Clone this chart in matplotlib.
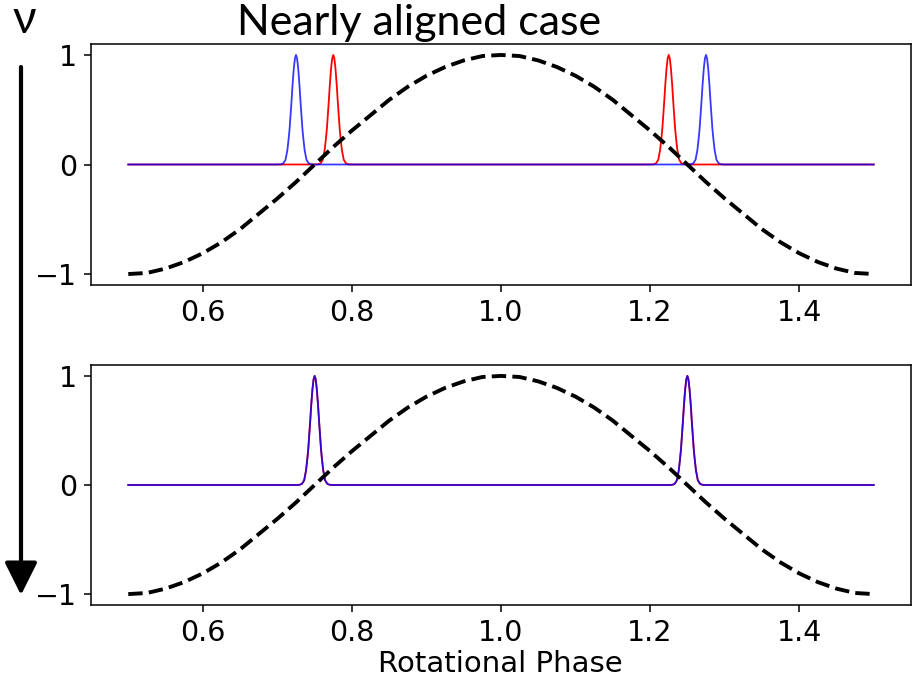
import matplotlib
matplotlib.use("Agg")
import matplotlib.pyplot as plt
import numpy as np

# ---- data ----
phase_grid = [0.500, 0.525, 0.550, 0.575, 0.600, 0.625, 0.650, 0.675, 0.700, 0.725,
              0.750, 0.775, 0.800, 0.825, 0.850, 0.875, 0.900, 0.925, 0.950, 0.975,
              1.000, 1.025, 1.050, 1.075, 1.100, 1.125, 1.150, 1.175, 1.200, 1.225,
              1.250, 1.275, 1.300, 1.325, 1.350, 1.375, 1.400, 1.425, 1.450, 1.475, 1.500]
dashed_curve = [-1.00, -0.99, -0.95, -0.89, -0.81, -0.71, -0.59, -0.45, -0.31, -0.16,
                0.00, 0.16, 0.31, 0.45, 0.59, 0.71, 0.81, 0.89, 0.95, 0.99,
                1.00, 0.99, 0.95, 0.89, 0.81, 0.71, 0.59, 0.45, 0.31, 0.16,
                0.00, -0.16, -0.31, -0.45, -0.59, -0.71, -0.81, -0.89, -0.95, -0.99, -1.00]

# pulse profile (offset from centre, height)
pulse_offsets = [-0.025, -0.020, -0.017, -0.014, -0.0115, -0.0098, -0.0086, -0.0069, -0.0057,
                 -0.0046, -0.0029, -0.0014, 0.0, 0.0014, 0.0029, 0.0046, 0.0057, 0.0069,
                 0.0086, 0.0098, 0.0115, 0.014, 0.017, 0.020, 0.025]
pulse_heights = [0.0, 0.002, 0.011, 0.044, 0.135, 0.24, 0.325, 0.49, 0.61,
                 0.73, 0.88, 0.97, 1.0, 0.97, 0.88, 0.73, 0.61, 0.49,
                 0.325, 0.24, 0.135, 0.044, 0.011, 0.002, 0.0]

phase_start, phase_end = 0.5, 1.5
top_red_centres = [0.775, 1.225]
top_blue_centres = [0.725, 1.275]
bottom_red_centres = [0.750, 1.250]
bottom_blue_centres = [0.750, 1.250]

title_text = "Nearly aligned case"
xlabel_text = "Rotational Phase"
nu_text = "ν"


def pulse_series(centres):
    xs = [phase_start]
    ys = [0.0]
    for c in sorted(centres):
        xs += [c + o for o in pulse_offsets]
        ys += list(pulse_heights)
    xs.append(phase_end)
    ys.append(0.0)
    return xs, ys


fig = plt.figure(figsize=(9.14, 6.87), dpi=100)
ax1 = fig.add_axes([91/914, 1 - 285/687, 820/914, 241/687])
ax2 = fig.add_axes([91/914, 1 - 605/687, 820/914, 240/687])

for ax, rc, bc in [(ax1, top_red_centres, top_blue_centres),
                   (ax2, bottom_red_centres, bottom_blue_centres)]:
    xr, yr = pulse_series(rc)
    xb, yb = pulse_series(bc)
    ax.plot(xr, yr, color="red", lw=1.3)
    ax.plot(xb, yb, color="blue", lw=1.3, alpha=0.78)
    ax.plot(phase_grid, dashed_curve, color="black", lw=2.8, ls="--")
    ax.set_xlim(0.45, 1.55)
    ax.set_ylim(-1.1, 1.1)
    ax.set_xticks([0.6, 0.8, 1.0, 1.2, 1.4])
    ax.set_xticklabels(["0.6", "0.8", "1.0", "1.2", "1.4"])
    ax.set_yticks([-1, 0, 1])
    ax.set_yticklabels(["\u22121", "0", "1"])
    ax.tick_params(labelsize=20.5, length=5, width=1.1, pad=5)
    for s in ax.spines.values():
        s.set_linewidth(1.1)

fig.text(500/914, 1 - 664/687, xlabel_text, ha="center", va="center", fontsize=21)
fig.text(419/914, 1 - 35/687, title_text, ha="center", va="baseline",
         fontsize=31, family="Lato")
fig.text(24/914, 1 - 33/687, nu_text, ha="center", va="baseline",
         fontsize=33, family="Lato")

ax1.annotate("", xy=(21, 687 - 595), xytext=(21, 687 - 67), xycoords="figure pixels",
             textcoords="figure pixels",
             arrowprops=dict(arrowstyle="-|>,head_length=1.0,head_width=0.5",
                             lw=3, color="black", mutation_scale=20,
                             shrinkA=0, shrinkB=0))

fig.savefig("out.png", dpi=100)
